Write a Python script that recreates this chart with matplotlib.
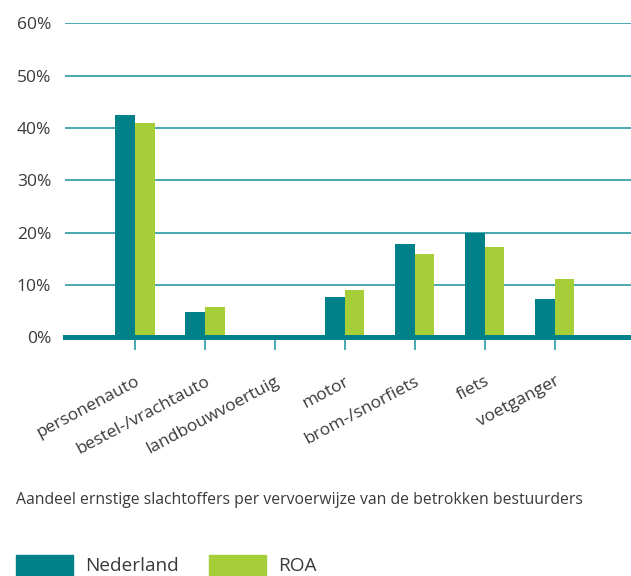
import matplotlib
matplotlib.use("Agg")
import matplotlib.pyplot as plt
import numpy as np
from matplotlib.patches import Rectangle

categories = ["personenauto", "bestel-/vrachtauto", "landbouwvoertuig", "motor",
              "brom-/snorfiets", "fiets", "voetganger"]
nederland = [42.5, 4.8, 0.0, 7.7, 17.8, 19.9, 7.3]
roa = [41.0, 5.8, 0.0, 9.0, 15.9, 17.3, 11.2]
yticks = [0, 10, 20, 30, 40, 50, 60]
ytick_labels = ["0%", "10%", "20%", "30%", "40%", "50%", "60%"]
caption = "Aandeel ernstige slachtoffers per vervoerwijze van de betrokken bestuurders"
series_names = ["Nederland", "ROA"]

TEAL = "#00818a"
GREEN = "#a6ce39"
GRID = "#2a9aa4"
TEXT = "#3a3a3a"

plt.rcParams["font.family"] = ["Open Sans", "DejaVu Sans"]

fig = plt.figure(figsize=(6.31, 5.76), dpi=100)
ax = fig.add_axes([65/631, 1 - 337.3/576, 1 - 65/631, (337.3 - 23.3)/576])

x = np.arange(len(categories))
w = 0.28
ax.bar(x - w/2, nederland, width=w, color=TEAL, zorder=3)
ax.bar(x + w/2, roa, width=w, color=GREEN, zorder=3)

for v in yticks[1:]:
    ax.axhline(v, color=GRID, lw=1.2, zorder=1)
ax.axhline(0, color=TEAL, lw=3.6, zorder=4, clip_on=False)

ax.set_xlim(-1, 7.09)
ax.set_ylim(0, 60)
for s in ax.spines.values():
    s.set_visible(False)

ax.set_yticks(yticks)
ax.set_yticklabels(ytick_labels, fontsize=12.5, color=TEXT)
ax.tick_params(axis="y", length=0, pad=10)
ax.set_xticks(x)
ax.set_xticklabels(categories, rotation=28, ha="right", rotation_mode="anchor",
                   fontsize=12.5, color=TEXT)
ax.tick_params(axis="x", length=9, width=1.2, color=GRID, pad=17)

fig.text(16/631, 1 - 500/576, caption, fontsize=11.3, color=TEXT, va="center", ha="left")

# legend
for i, (name, col) in enumerate(zip(series_names, [TEAL, GREEN])):
    x0 = [16, 209][i]
    fig.patches.append(Rectangle((x0/631, 0), 57/631, 21/576, transform=fig.transFigure,
                                 color=col, figure=fig))
    fig.text((x0 + 69)/631, 1 - 566/576, name, fontsize=13.7, color=TEXT, va="center", ha="left")

fig.savefig("out.png", dpi=100)
